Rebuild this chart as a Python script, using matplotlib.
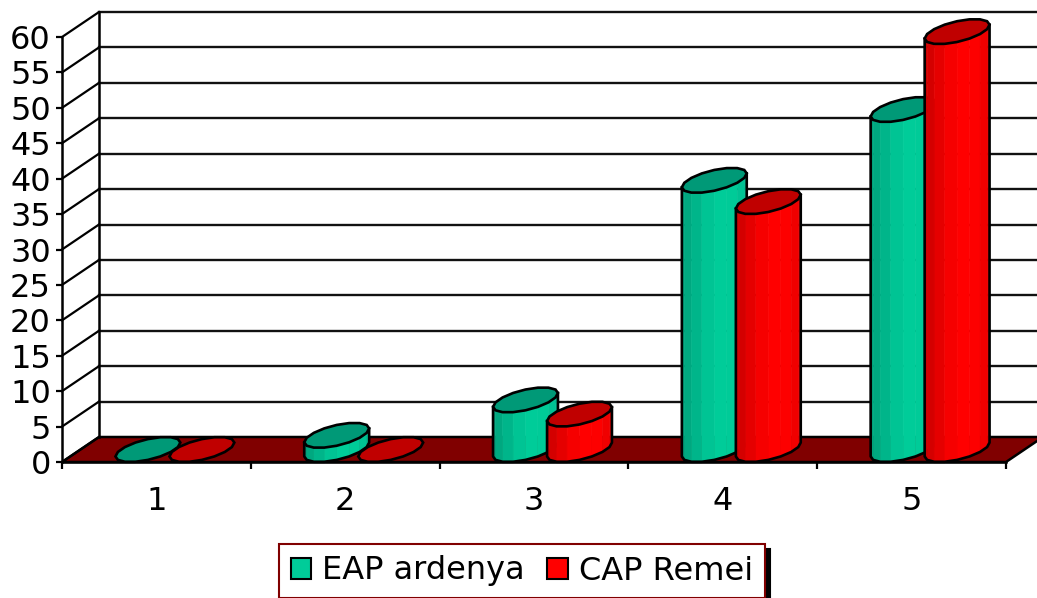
import numpy as np
import matplotlib
matplotlib.use("Agg")
import matplotlib.pyplot as plt
from matplotlib.colors import LinearSegmentedColormap
from matplotlib.patches import Patch, Polygon

# === Data ===

categories = [1, 2, 3, 4, 5]
eap_values = [0, 2, 7, 38, 48]
cap_values = [0, 0, 5, 35, 59]
y_ticks = list(range(0, 65, 5))
series_names = ["EAP ardenya", "CAP Remei"]

# === Styles ===

GREEN_RAMP = LinearSegmentedColormap.from_list(
    "green_ramp", ["#00A07A", "#00B78C", "#00CC99", "#00CC99", "#00BC90"]
)
RED_RAMP = LinearSegmentedColormap.from_list(
    "red_ramp", ["#C80000", "#E80000", "#FF0000", "#FF0000", "#E80000"]
)
GREEN_CAP = "#009977"
RED_CAP = "#C00000"
FLOOR = "#800000"
FONT = 23

# axes fill the figure, so these come straight from the picture
PX_PER_CAT = 188.8
PX_PER_VAL = 7.083
LEFT_PX, BASE_PX = 62, 462
DEPTH_X = 37 / PX_PER_CAT
DEPTH_Y = 25 / PX_PER_VAL
BAR_W = 54 / PX_PER_CAT


def cylinder(ax, x, value, cmap, cap_color, z):
    # ellipse of the cylinder in pixel space, converted back to data units
    hw, hd_x, hd_y = 27.0, 18.0, 12.5
    t0 = np.arctan2(hd_x, hw)
    cx = x + DEPTH_X / 2

    def ring(t, level):
        px = hw * np.cos(t) + hd_x * np.sin(t)
        py = hd_y * np.sin(t)
        return np.column_stack(
            [cx + px / PX_PER_CAT, level + DEPTH_Y / 2 + py / PX_PER_VAL]
        )

    if value > 0:
        front = t0 + np.pi + np.linspace(0, np.pi, 9)
        low, high = ring(front, 0), ring(front, value)
        span = low[-1, 0] - low[0, 0]
        for i in range(len(front) - 1):
            color = cmap((low[i:i + 2, 0].mean() - low[0, 0]) / span)
            quad = [low[i], low[i + 1], high[i + 1], high[i]]
            ax.add_patch(
                Polygon(quad, fc=color, ec=color, lw=0.4, zorder=z)
            )
        side = np.vstack([high[:1], low, high[-1:]])
        ax.plot(side[:, 0], side[:, 1], color="black", lw=1.9, zorder=z + 0.1)

    cap = ring(t0 + np.linspace(0, 2 * np.pi, 17)[:-1], value)
    ax.add_patch(
        Polygon(cap, fc=cap_color, ec="black", lw=1.9, zorder=z + 0.2)
    )


# === Figure ===

fig = plt.figure(figsize=(10.37, 5.98), dpi=100)
ax = fig.add_axes([0, 0, 1, 1])
ax.set_xlim(0.5 - LEFT_PX / PX_PER_CAT, 0.5 + (1037 - LEFT_PX) / PX_PER_CAT)
ax.set_ylim(-(598 - BASE_PX) / PX_PER_VAL, BASE_PX / PX_PER_VAL)
ax.patch.set_visible(False)

x_lo, x_hi = 0.5, 5.5

# walls and floor
floor = [
    (x_lo, 0),
    (x_hi, 0),
    (x_hi + DEPTH_X, DEPTH_Y),
    (x_lo + DEPTH_X, DEPTH_Y),
]
ax.add_patch(Polygon(floor, fc=FLOOR, ec="black", lw=1.8, zorder=1))
for v in y_ticks:
    ax.plot(
        [x_lo, x_lo + DEPTH_X],
        [v, v + DEPTH_Y],
        color="black",
        lw=1.6,
        zorder=1,
    )
    if v > 0:
        ax.plot(
            [x_lo + DEPTH_X, x_hi + DEPTH_X],
            [v + DEPTH_Y, v + DEPTH_Y],
            color="#111111",
            lw=1.7,
            zorder=1,
        )
ax.plot(
    [x_lo + DEPTH_X, x_lo + DEPTH_X],
    [DEPTH_Y, 60 + DEPTH_Y],
    color="black",
    lw=1.8,
    zorder=1,
)

# bars
for i, cat in enumerate(categories):
    cylinder(ax, cat - BAR_W / 2, eap_values[i], GREEN_RAMP, GREEN_CAP, 3 + i)
    cylinder(
        ax, cat + BAR_W / 2, cap_values[i], RED_RAMP, RED_CAP, 3.5 + i
    )

# axes
for side in ["top", "right"]:
    ax.spines[side].set_visible(False)
ax.spines["left"].set_position(("data", x_lo))
ax.spines["left"].set_bounds(0, 60)
ax.spines["bottom"].set_position(("data", 0))
ax.spines["bottom"].set_bounds(x_lo, x_hi)
for side in ["left", "bottom"]:
    ax.spines[side].set_linewidth(1.8)
    ax.spines[side].set_zorder(20)

ax.set_yticks(y_ticks)
ax.tick_params(axis="y", labelsize=FONT, length=4, width=1.6, pad=4)
ax.set_xticks(categories)
ax.set_xticks(np.arange(x_lo, x_hi + 1), minor=True)
ax.tick_params(axis="x", which="major", labelsize=FONT, length=0, pad=17)
ax.tick_params(axis="x", which="minor", length=5, width=1.6)

handles = [
    Patch(fc="#00CC99", ec="black", lw=1.5),
    Patch(fc="#FF0000", ec="black", lw=1.5),
]
leg = ax.legend(
    handles,
    series_names,
    loc="center",
    bbox_to_anchor=(522 / 1037, 1 - 571 / 598),
    bbox_transform=fig.transFigure,
    ncol=2,
    fontsize=FONT,
    fancybox=False,
    edgecolor=FLOOR,
    framealpha=1,
    shadow={"ox": 3.5, "oy": -3.5, "color": "black", "alpha": 1},
    handlelength=0.65,
    handleheight=0.65,
    handletextpad=0.35,
    columnspacing=0.7,
    borderpad=0.35,
    borderaxespad=0,
)
leg.get_frame().set_linewidth(1.5)
leg.set_zorder(30)

fig.savefig("out.png", dpi=100)
